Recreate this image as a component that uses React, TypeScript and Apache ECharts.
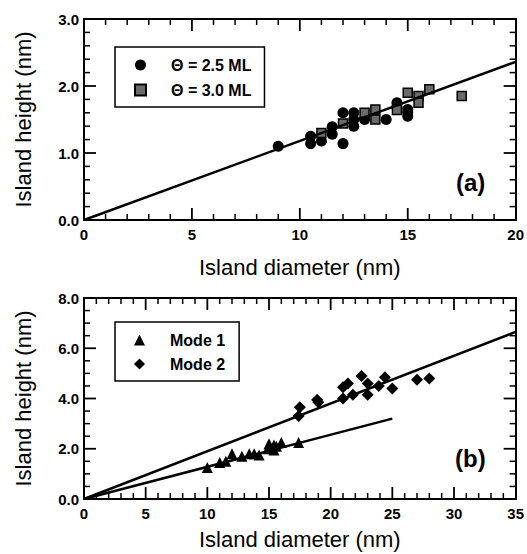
import React, { useEffect, useRef } from "react";
import * as echarts from "echarts";

const FONT = "'Liberation Sans', Arial, Helvetica, sans-serif";

// Panel (a)
const xTicksA = { min: 0, max: 20, interval: 5, minorStep: 1 };
const yTicksA = { min: 0, max: 3, interval: 1, minorStep: 0.2 };
const ml25: [number, number][] = [
  [9, 1.1], [10.5, 1.25], [10.5, 1.14], [11, 1.18], [11.5, 1.39], [11.5, 1.28],
  [12, 1.6], [12, 1.14], [12.5, 1.6], [12.5, 1.4], [12.5, 1.5], [13, 1.5],
  [14, 1.5], [14.5, 1.75], [14.5, 1.68], [15, 1.65], [15, 1.55], [15, 1.6],
];
const ml30: [number, number][] = [
  [11, 1.3], [12, 1.44], [13, 1.6], [13.5, 1.65], [13.5, 1.5], [14.5, 1.64],
  [15, 1.9], [15.5, 1.85], [15.5, 1.75], [16, 1.95], [17.5, 1.85],
];
const fitA: [number, number][] = [[0, 0], [20, 2.36]];

// Panel (b)
const xTicksB = { min: 0, max: 35, interval: 5, minorStep: 1 };
const yTicksB = { min: 0, max: 8, interval: 2, minorStep: 0.5 };
const mode1: [number, number][] = [
  [10, 1.25], [11, 1.45], [11.5, 1.5], [12, 1.8], [12.8, 1.7], [13.4, 1.8],
  [13.8, 1.8], [14.2, 1.75], [14.9, 2.0], [15, 2.2], [15.4, 2.15], [15.4, 1.95],
  [15.6, 2.1], [16, 2.25], [17.4, 2.25],
];
const mode2: [number, number][] = [
  [17.5, 3.65], [17.4, 3.3], [18.9, 3.95], [19, 3.85], [21, 4.0], [21, 4.45],
  [21.4, 4.6], [21.8, 4.15], [22.5, 4.9], [23, 4.6], [23, 4.15], [23.9, 4.5],
  [24.4, 4.85], [25, 4.4], [27, 4.75], [28, 4.8],
];
const fitMode1: [number, number][] = [[0, 0], [25, 3.2]];
const fitMode2: [number, number][] = [[0, 0], [35, 6.65]];

const seriesNames = ["Θ = 2.5 ML", "Θ = 3.0 ML", "Mode 1", "Mode 2"];
const panelLabels = ["(a)", "(b)"];
const xTitle = "Island diameter (nm)";
const yTitle = "Island height (nm)";

// tick rows: [value, kind (0 = x tick, 1 = y tick), major (1/0)]
function tickRows(t: any, kind: number): number[][] {
  const rows: number[][] = [];
  const n = Math.round((t.max - t.min) / t.minorStep);
  for (let i = 1; i < n; i++) {
    const v = +(t.min + i * t.minorStep).toFixed(6);
    const r = v / t.interval;
    const major = Math.abs(r - Math.round(r)) < 1e-6 ? 1 : 0;
    rows.push([v, kind, major]);
  }
  return rows;
}

export default function App() {
  const ref = useRef<HTMLDivElement>(null);
  useEffect(() => {
    document.body.style.margin = "0";
    if (!ref.current) return;
    const chart = echarts.init(ref.current, null, { renderer: "svg" });

    const base = (grid: number, t: any, pos: string) => ({
      type: "value",
      gridIndex: grid,
      position: pos,
      min: t.min,
      max: t.max,
      interval: t.interval,
      axisLine: { show: true, onZero: false, lineStyle: { color: "#000", width: 2 } },
      axisTick: { show: false },
      minorTick: { show: false },
      splitLine: { show: false },
      minorSplitLine: { show: false },
    });
    const labelStyle = () => ({ color: "#000", fontFamily: FONT, fontWeight: "bold" as const, fontSize: 15 });
    const nameStyle = () => ({ color: "#000", fontFamily: FONT, fontSize: 22 });

    const mainX = (grid: number, t: any, nameGap: number) => ({
      ...base(grid, t, "bottom"),
      axisLabel: { ...labelStyle(), margin: 7 },
      name: xTitle,
      nameLocation: "middle",
      nameGap,
      nameTextStyle: nameStyle(),
    });
    const mainY = (grid: number, t: any) => ({
      ...base(grid, t, "left"),
      axisLabel: { ...labelStyle(), margin: 5, formatter: (v: number) => v.toFixed(1) },
      name: yTitle,
      nameLocation: "middle",
      nameGap: 50,
      nameTextStyle: nameStyle(),
    });
    const mirror = (grid: number, t: any, pos: string) => ({
      ...base(grid, t, pos),
      axisLabel: { show: false },
    });

    const tickSeries = (axisIdx: number, xT: any, yT: any) => ({
      type: "custom",
      xAxisIndex: axisIdx,
      yAxisIndex: axisIdx,
      silent: true,
      clip: false,
      z: 5,
      data: [...tickRows(xT, 0), ...tickRows(yT, 1)],
      renderItem: (params: any, api: any) => {
        const v = api.value(0);
        const kind = api.value(1);
        const major = api.value(2);
        const len = major ? 12 : 6;
        const style = { stroke: "#000", lineWidth: major ? 1.8 : 1.5 };
        if (kind === 0) {
          const b = api.coord([v, yT.min]);
          const t = api.coord([v, yT.max]);
          return {
            type: "group",
            children: [
              { type: "line", shape: { x1: b[0], y1: b[1], x2: b[0], y2: b[1] - len }, style },
              { type: "line", shape: { x1: t[0], y1: t[1], x2: t[0], y2: t[1] + len }, style },
            ],
          };
        }
        const l = api.coord([xT.min, v]);
        const r = api.coord([xT.max, v]);
        return {
          type: "group",
          children: [
            { type: "line", shape: { x1: l[0], y1: l[1], x2: l[0] + len, y2: l[1] }, style },
            { type: "line", shape: { x1: r[0], y1: r[1], x2: r[0] - len, y2: r[1] }, style },
          ],
        };
      },
    });

    const legendBase = () => ({
      orient: "vertical",
      selectedMode: false,
      borderColor: "#000",
      borderWidth: 1.5,
      itemWidth: 11,
      itemHeight: 11,
      textStyle: { color: "#000", fontFamily: FONT, fontWeight: "bold", fontSize: 16, padding: [0, 0, 0, 20] },
    });

    const option: any = {
      animation: false,
      grid: [
        { left: 84, top: 19, width: 433, height: 201 },
        { left: 84, top: 298, width: 433, height: 201 },
      ],
      xAxis: [
        mainX(0, xTicksA, 36),
        mirror(0, xTicksA, "top"),
        mainX(1, xTicksB, 29),
        mirror(1, xTicksB, "top"),
      ],
      yAxis: [
        mainY(0, yTicksA),
        mirror(0, yTicksA, "right"),
        mainY(1, yTicksB),
        mirror(1, yTicksB, "right"),
      ],
      title: [
        { text: panelLabels[0], left: 456, top: 170, padding: 0, textStyle: { fontFamily: FONT, fontWeight: "bold", fontSize: 24, color: "#000" } },
        { text: panelLabels[1], left: 455, top: 446, padding: 0, textStyle: { fontFamily: FONT, fontWeight: "bold", fontSize: 24, color: "#000" } },
      ],
      legend: [
        {
          ...legendBase(),
          left: 115,
          top: 47,
          padding: [10, 13, 9, 19],
          itemGap: 9,
          data: [seriesNames[0], seriesNames[1]],
        },
        {
          ...legendBase(),
          left: 115,
          top: 322,
          padding: [10, 14, 9, 19],
          itemGap: 8,
          data: [seriesNames[2], seriesNames[3]],
        },
      ],
      series: [
        tickSeries(0, xTicksA, yTicksA),
        tickSeries(2, xTicksB, yTicksB),
        {
          type: "line", xAxisIndex: 0, yAxisIndex: 0, data: fitA, showSymbol: false, silent: true,
          lineStyle: { color: "#000", width: 2.5 },
        },
        {
          name: seriesNames[0], type: "scatter", xAxisIndex: 0, yAxisIndex: 0, data: ml25,
          symbol: "circle", symbolSize: 11, itemStyle: { color: "#000", opacity: 1 },
        },
        {
          name: seriesNames[1], type: "scatter", xAxisIndex: 0, yAxisIndex: 0, data: ml30,
          symbol: "rect", symbolSize: 9,
          itemStyle: { color: "#6a6a6a", borderColor: "#000", borderWidth: 1.5, opacity: 1 },
        },
        {
          type: "line", xAxisIndex: 2, yAxisIndex: 2, data: fitMode1, showSymbol: false, silent: true,
          lineStyle: { color: "#000", width: 2.5 },
        },
        {
          type: "line", xAxisIndex: 2, yAxisIndex: 2, data: fitMode2, showSymbol: false, silent: true,
          lineStyle: { color: "#000", width: 2.5 },
        },
        {
          name: seriesNames[2], type: "scatter", xAxisIndex: 2, yAxisIndex: 2, data: mode1,
          symbol: "triangle", symbolSize: 11, itemStyle: { color: "#000", opacity: 1 },
        },
        {
          name: seriesNames[3], type: "scatter", xAxisIndex: 2, yAxisIndex: 2, data: mode2,
          symbol: "diamond", symbolSize: 12, itemStyle: { color: "#000", opacity: 1 },
        },
      ],
    };
    chart.setOption(option);
    return () => chart.dispose();
  }, []);
  return <div ref={ref} style={{ width: 527, height: 554 }} />;
}
